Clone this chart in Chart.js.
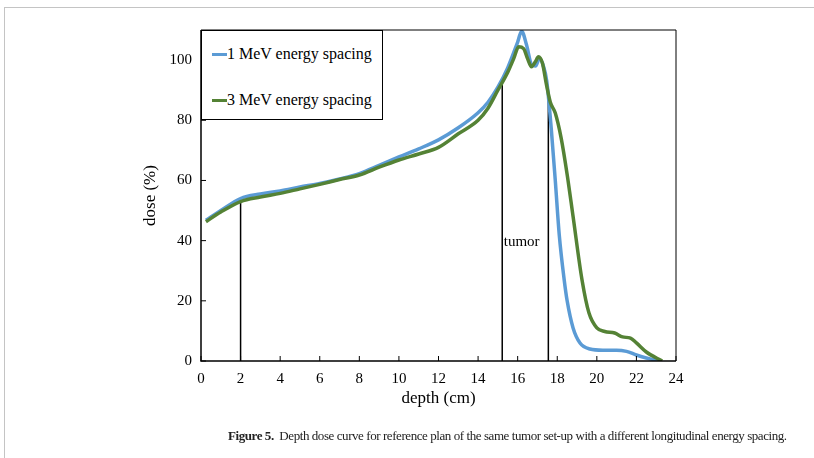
<!DOCTYPE html>
<html>
<head>
<meta charset="utf-8">
<script src="https://cdn.jsdelivr.net/npm/chart.js@4"></script>
<style>
  body { margin: 0; background: #fff; }
  #wrap { position: relative; width: 814px; height: 458px; overflow: hidden; }
  #frame { position: absolute; left: 4px; top: 7px; right: -2px; bottom: -2px;
           border-top: 1.5px solid #c4c4c4; border-left: 1px solid #c4c4c4; }
  #legend { position: absolute; left: 201px; top: 30px; width: 180px; height: 88px;
            border: 1px solid #000; background: #fff;
            font-family: "Liberation Serif", serif; font-size: 16px; color: #000; }
  .item { position: absolute; left: 10px; height: 20px; line-height: 20px; white-space: nowrap; }
  .swatch { display: inline-block; width: 15px; height: 3.5px; vertical-align: middle;
            margin-right: 0; position: relative; top: -1px; }
  #caption { position: absolute; left: 228px; top: 428px; white-space: nowrap;
             font-family: "Liberation Serif", serif; font-size: 13px; letter-spacing: -0.43px;
             color: #222; }
</style>
</head>
<body>
<div id="wrap">
  <div id="frame"></div>
  <canvas id="chart" width="814" height="458"></canvas>
  <div id="legend">
    <div class="item" style="top:13px"><span class="swatch" style="background:#5B9BD5"></span>1 MeV energy spacing</div>
    <div class="item" style="top:59px"><span class="swatch" style="background:#548235"></span>3 MeV energy spacing</div>
  </div>
  <div id="caption"><b>Figure 5.</b>&nbsp; Depth dose curve for reference plan of the same tumor set-up with a different longitudinal energy spacing.</div>
</div>
<script>
const depth1 = [0.25, 1, 2, 3, 4, 5, 6, 7, 8, 9, 10, 11, 12, 13, 14, 14.5, 15, 15.5, 16, 16.2, 16.45, 16.7, 16.9, 17.1, 17.3, 17.47, 17.7, 17.9, 18.1, 18.35, 18.5, 18.8, 19.15, 19.65, 20.3, 21, 21.5, 22, 22.5, 23.2];
const dose1 = [46.8, 50, 54, 55.5, 56.5, 57.8, 59, 60.5, 62.3, 65, 67.8, 70.5, 73.5, 77.5, 82.5, 86, 91, 97.5, 106, 109.6, 105, 98.5, 98, 100.5, 98, 93, 77, 60, 42, 27, 20, 11, 6, 4, 3.6, 3.6, 3.2, 2, 1, 0];

const depth3 = [0.25, 1, 2, 3, 4, 5, 6, 7, 8, 9, 10, 11, 12, 13, 14, 14.5, 15, 15.5, 15.8, 16.05, 16.3, 16.5, 16.7, 16.9, 17.05, 17.25, 17.45, 17.65, 17.9, 18.2, 18.5, 18.8, 19.25, 19.6, 20, 20.4, 20.9, 21.3, 21.7, 22, 22.5, 23.3];
const dose3 = [46.3, 49.5, 53, 54.5, 55.7, 57.2, 58.7, 60.3, 61.8, 64.4, 66.8, 68.8, 71, 75.5, 80, 84, 90, 96, 100.5, 104.4, 103.8, 100.5, 97.8, 99.5, 101.1, 99, 92, 86, 82.4, 74, 62, 48, 27, 16, 11, 9.8, 9.3, 8, 7.6, 6, 3, 0];

// tumor / entrance markers: depth and height of the thin black lines
const markerDepths = [2, 15.22, 17.55];
const markerTops = [53, 92.2, 90];

const xTicks = [0, 2, 4, 6, 8, 10, 12, 14, 16, 18, 20, 22, 24];
const yTicks = [0, 20, 40, 60, 80, 100];

const pairs = (xs, ys) => xs.map((x, i) => ({ x: x, y: ys[i] }));

const markerSets = markerDepths.map((d, i) => ({
  label: "marker" + i,
  data: [{ x: d, y: 0 }, { x: d, y: markerTops[i] }],
  borderColor: "#000",
  borderWidth: 1.5,
  pointRadius: 0,
  tension: 0,
  order: 3,
}));

const serif = "'Liberation Serif', 'Times New Roman', serif";

const frameAndTicks = {
  id: "frameAndTicks",
  afterDatasetsDraw(chart) {
    const { ctx, chartArea: a, scales } = chart;
    ctx.save();
    ctx.strokeStyle = "#000";
    ctx.lineWidth = 1;
    ctx.beginPath();
    ctx.moveTo(a.left, a.top);
    ctx.lineTo(a.right, a.top);
    ctx.lineTo(a.right, a.bottom);
    ctx.stroke();
    ctx.lineWidth = 1.5;
    ctx.beginPath();
    ctx.moveTo(a.left, a.top);
    ctx.lineTo(a.left, a.bottom);
    ctx.lineTo(a.right, a.bottom);
    ctx.stroke();
    ctx.lineWidth = 1;
    xTicks.forEach((v) => {
      const px = scales.x.getPixelForValue(v);
      ctx.beginPath();
      ctx.moveTo(px, a.bottom);
      ctx.lineTo(px, a.bottom - 5);
      ctx.stroke();
    });
    yTicks.forEach((v) => {
      const py = scales.y.getPixelForValue(v);
      ctx.beginPath();
      ctx.moveTo(a.left, py);
      ctx.lineTo(a.left + 5, py);
      ctx.stroke();
    });
    // tumor label
    ctx.fillStyle = "#000";
    ctx.font = "15px " + serif;
    ctx.textAlign = "center";
    ctx.textBaseline = "middle";
    ctx.fillText("tumor", scales.x.getPixelForValue(16.2), scales.y.getPixelForValue(39.5));
    ctx.restore();
  },
};

new Chart(document.getElementById("chart"), {
  type: "line",
  data: {
    datasets: [
      {
        label: "1 MeV energy spacing",
        data: pairs(depth1, dose1),
        borderColor: "#5B9BD5",
        borderWidth: 3.5,
        pointRadius: 0,
        cubicInterpolationMode: "monotone",
        order: 2,
      },
      {
        label: "3 MeV energy spacing",
        data: pairs(depth3, dose3),
        borderColor: "#548235",
        borderWidth: 3.5,
        pointRadius: 0,
        cubicInterpolationMode: "monotone",
        order: 1,
      },
      ...markerSets,
    ],
  },
  options: {
    responsive: false,
    animation: false,
    layout: { padding: { left: 140, right: 138, top: 30, bottom: 47 } },
    plugins: { legend: { display: false }, tooltip: { enabled: false } },
    scales: {
      x: {
        type: "linear",
        min: 0,
        max: 24,
        grid: { display: false, drawTicks: false },
        border: { display: false },
        afterBuildTicks: (s) => { s.ticks = xTicks.map((v) => ({ value: v })); },
        afterFit: (s) => { s.height = 458 - 47 - 361; },
        ticks: { color: "#000", font: { family: serif, size: 15 }, padding: 9, maxRotation: 0 },
        title: { display: true, text: "depth (cm)", color: "#000", font: { family: serif, size: 17 }, padding: { top: 0, bottom: 2 } },
      },
      y: {
        min: 0,
        max: 110,
        grid: { display: false, drawTicks: false },
        border: { display: false },
        afterBuildTicks: (s) => { s.ticks = yTicks.map((v) => ({ value: v })); },
        afterFit: (s) => { s.width = 61; },
        ticks: { color: "#000", font: { family: serif, size: 15 }, padding: 9 },
        title: { display: true, text: "dose (%)", color: "#000", font: { family: serif, size: 17 }, padding: { top: 0, bottom: 0 } },
      },
    },
  },
  plugins: [frameAndTicks],
});
</script>
</body>
</html>
